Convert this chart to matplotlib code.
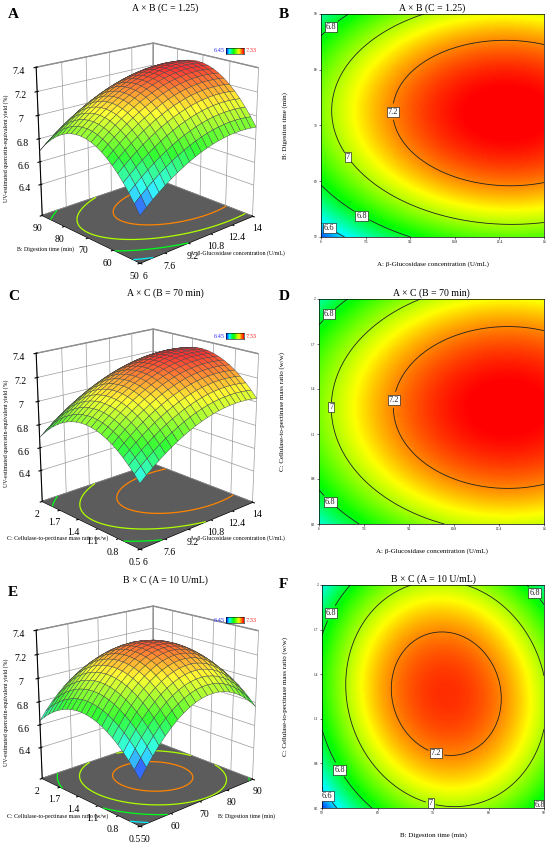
import matplotlib
matplotlib.use('Agg')
import matplotlib.pyplot as plt
import numpy as np
from matplotlib.colors import LinearSegmentedColormap, Normalize

plt.rcParams['font.family'] = ['Liberation Serif', 'DejaVu Serif']
plt.rcParams['grid.color'] = '#9a9a9a'
plt.rcParams['grid.linewidth'] = 0.5

# factor ranges and ticks
A_range = [6, 14]
B_range = [50, 90]
C_range = [0.5, 2.0]
A_ticks = [6, 7.6, 9.2, 10.8, 12.4, 14]
B_ticks = [50, 60, 70, 80, 90]
C_ticks = [0.5, 0.8, 1.1, 1.4, 1.7, 2]
A_ticklabels = ['6', '7.6', '9.2', '10.8', '12.4', '14']
B_ticklabels = ['50', '60', '70', '80', '90']
C_ticklabels = ['0.5', '0.8', '1.1', '1.4', '1.7', '2']
z_ticks = [6.4, 6.6, 6.8, 7.0, 7.2, 7.4]
z_ticklabels = ['6.4', '6.6', '6.8', '7', '7.2', '7.4']
levels = [6.6, 6.8, 7.0, 7.2]
level_labels = ['6.6', '6.8', '7', '7.2']
color_min, color_max = 6.45, 7.33

# quadratic response model in coded units
b0 = 7.28
b_lin = [0.19, 0.085, 0.02]     # A, B, C
b_int = [-0.01, 0.0, -0.05]     # AB, AC, BC
b_sq = [-0.14, -0.35, -0.28]    # A^2, B^2, C^2

A_fixed = 10
B_fixed = 70
C_fixed = 1.25

A_label = 'A: β-Glucosidase concentration (U/mL)'
B_label = 'B: Digestion time (min)'
C_label = 'C: Cellulase-to-pectinase mass ratio (w/w)'
Z_label = 'UV-estimated quercetin-equivalent yield (%)'


def coded(v, r):
    return (v - (r[0] + r[1]) / 2) / ((r[1] - r[0]) / 2)


def model(a, b, c):
    x1, x2, x3 = coded(a, A_range), coded(b, B_range), coded(c, C_range)
    return (b0 + b_lin[0] * x1 + b_lin[1] * x2 + b_lin[2] * x3
            + b_int[0] * x1 * x2 + b_int[1] * x1 * x3 + b_int[2] * x2 * x3
            + b_sq[0] * x1 ** 2 + b_sq[1] * x2 ** 2 + b_sq[2] * x3 ** 2)


cmap = LinearSegmentedColormap.from_list(
    'de', [(0.0, '#0000ff'), (0.18, '#00ffff'), (0.42, '#00ff00'),
           (0.72, '#ffff00'), (1.0, '#ff0000')])
norm = Normalize(color_min, color_max)

panels = [
    dict(xr=A_range, yr=B_range, f=lambda x, y: model(x, y, C_fixed),
         xt=A_ticks, xtl=A_ticklabels, yt=B_ticks, ytl=B_ticklabels,
         xl=A_label, yl=B_label, title='A × B (C = 1.25)', letters=('A', 'B'),
         labels=[(6.4, 87.5), (7.6, 55.0), (6.25, 51.2), (7.0, 64.5), (9.0, 72.5)]),
    dict(xr=A_range, yr=C_range, f=lambda x, y: model(x, B_fixed, y),
         xt=A_ticks, xtl=A_ticklabels, yt=C_ticks, ytl=C_ticklabels,
         xl=A_label, yl=C_label, title='A × C (B = 70 min)', letters=('C', 'D'),
         labels=[(6.6, 1.85), (6.5, 0.67), (6.3, 1.28), (8.6, 1.33)]),
    dict(xr=B_range, yr=C_range, f=lambda x, y: model(A_fixed, x, y),
         xt=B_ticks, xtl=B_ticklabels, yt=C_ticks, ytl=C_ticklabels,
         xl=B_label, yl=C_label, title='B × C (A = 10 U/mL)', letters=('E', 'F'),
         labels=[(51.2, 1.82), (52.8, 0.75), (87.5, 1.92), (88.5, 0.55),
                 (50.8, 0.58), (69.5, 0.52), (70.0, 0.8)]),
]

W, H = 550, 844
fig = plt.figure(figsize=(5.5, 8.44), dpi=100)


def fx(px):
    return px / W


def fy(py):
    return 1 - py / H


surf_rect = [(19, 27, 250, 240), (19, 313, 250, 240), (19, 590, 250, 240)]
cont_rect = [(321, 14, 223, 223), (319, 299, 225, 225), (322, 585, 222, 223)]
title_y = [8, 293, 580]
letter_y = [(14, 14), (297, 297), (592, 585)]
key_y = [51, 336, 620]
z_centres = [148, 433, 712]
y_lab_pos = [(17, 249), (7, 538), (7, 816)]
x_lab_pos = [(190, 253), (190, 538), (218, 816)]
floor_z = 6.12

for i, p in enumerate(panels):
    # ---------- 3D surface ----------
    l, t, w, h = surf_rect[i]
    ax = fig.add_axes([fx(l), fy(t + h), w / W, h / H], projection='3d')
    ax.computed_zorder = False
    x = np.linspace(p['xr'][0], p['xr'][1], 21)
    y = np.linspace(p['yr'][0], p['yr'][1], 21)
    X, Y = np.meshgrid(x, y)
    Z = p['f'](X, Y)
    xf = np.linspace(p['xr'][0], p['xr'][1], 160)
    yf = np.linspace(p['yr'][0], p['yr'][1], 160)
    Xf, Yf = np.meshgrid(xf, yf)
    Zf = p['f'](Xf, Yf)
    ax.plot_surface(Xf[::159, ::159], Yf[::159, ::159], np.full((2, 2), floor_z),
                    color='#5c5c5c', shade=False, linewidth=0, zorder=1)
    ax.contour(Xf, Yf, Zf, levels=levels, zdir='z', offset=floor_z, cmap=cmap,
               norm=norm, linewidths=0.9, zorder=2)
    fc = cmap(norm(Z))
    fc[..., :3] = fc[..., :3] * 0.8 + 0.2
    ax.plot_surface(X, Y, Z, facecolors=fc, edgecolor='#404040', linewidth=0.3,
                    shade=False, zorder=3)
    ax.set_xlim(p['xr'])
    ax.set_ylim(p['yr'])
    ax.set_zlim(floor_z, 7.4)
    ax.set_xticks(p['xt'], p['xtl'])
    ax.set_yticks(p['yt'], p['ytl'])
    ax.set_zticks(z_ticks, z_ticklabels)
    ax.tick_params(labelsize=7, pad=-4)
    ax.tick_params(axis='z', pad=-1)
    for a in (ax.xaxis, ax.yaxis, ax.zaxis):
        a.set_pane_color((1, 1, 1, 1))
        a.pane.set_edgecolor('#777777')
    ax.set_proj_type('persp', focal_length=0.7)
    ax.view_init(elev=19, azim=-133)
    ax.set_box_aspect((1, 0.95, 1.0), zoom=1.08)

    # colour key
    ky = key_y[i]
    cax = fig.add_axes([fx(226), fy(ky + 3), 18 / W, 6 / H])
    cax.imshow(np.linspace(0, 1, 64)[None, :], cmap=cmap, aspect='auto')
    cax.set_xticks([])
    cax.set_yticks([])
    for s in cax.spines.values():
        s.set_linewidth(0.4)
    fig.text(fx(225), fy(ky), '6.45', color='#2a2aff', fontsize=4.5,
             ha='right', va='center')
    fig.text(fx(246), fy(ky), '7.33', color='#ff2020', fontsize=4.5,
             ha='left', va='center')

    # ---------- 2D contour ----------
    l, t, w, h = cont_rect[i]
    ax2 = fig.add_axes([fx(l), fy(t + h), w / W, h / H])
    ax2.imshow(Zf, extent=[p['xr'][0], p['xr'][1], p['yr'][0], p['yr'][1]],
               origin='lower', cmap=cmap, norm=norm,
               aspect='auto', interpolation='bilinear')
    cs = ax2.contour(Xf, Yf, Zf, levels=levels, colors='#222222', linewidths=0.6)
    texts = ax2.clabel(cs, fmt=dict(zip(levels, level_labels)), fontsize=6,
                       inline=True, inline_spacing=3, manual=p['labels'])
    for tx in texts:
        tx.set_rotation(0)
        tx.set_bbox(dict(boxstyle='square,pad=0.12', fc='white', ec='black', lw=0.4))
    ax2.set_xlim(p['xr'])
    ax2.set_ylim(p['yr'])
    ax2.set_xticks(p['xt'], p['xtl'])
    ax2.set_yticks(p['yt'], p['ytl'])
    ax2.tick_params(labelsize=2.5, length=1.5, width=0.4, pad=1)
    for s in ax2.spines.values():
        s.set_linewidth(0.5)
    ax2.set_xlabel(p['xl'], fontsize=5, labelpad=12)
    ax2.set_ylabel(p['yl'], fontsize=5, labelpad=19)
    ax2.set_title(p['title'], fontsize=7, pad=2)

    # titles, letters and 3D axis names
    fig.text(fx(165), fy(title_y[i]), p['title'], fontsize=7, ha='center', va='center')
    fig.text(fx(8), fy(letter_y[i][0]), p['letters'][0], fontsize=11,
             fontweight='bold', ha='left', va='center')
    fig.text(fx(279), fy(letter_y[i][1]), p['letters'][1], fontsize=11,
             fontweight='bold', ha='left', va='center')
    fig.text(fx(6), fy(z_centres[i]), Z_label, fontsize=4.2, rotation=90,
             ha='center', va='center')
    fig.text(fx(y_lab_pos[i][0]), fy(y_lab_pos[i][1]), p['yl'], fontsize=4.2,
             ha='left', va='center')
    fig.text(fx(x_lab_pos[i][0]), fy(x_lab_pos[i][1]), p['xl'], fontsize=4.2,
             ha='left', va='center')

fig.savefig('out.png', dpi=100)
